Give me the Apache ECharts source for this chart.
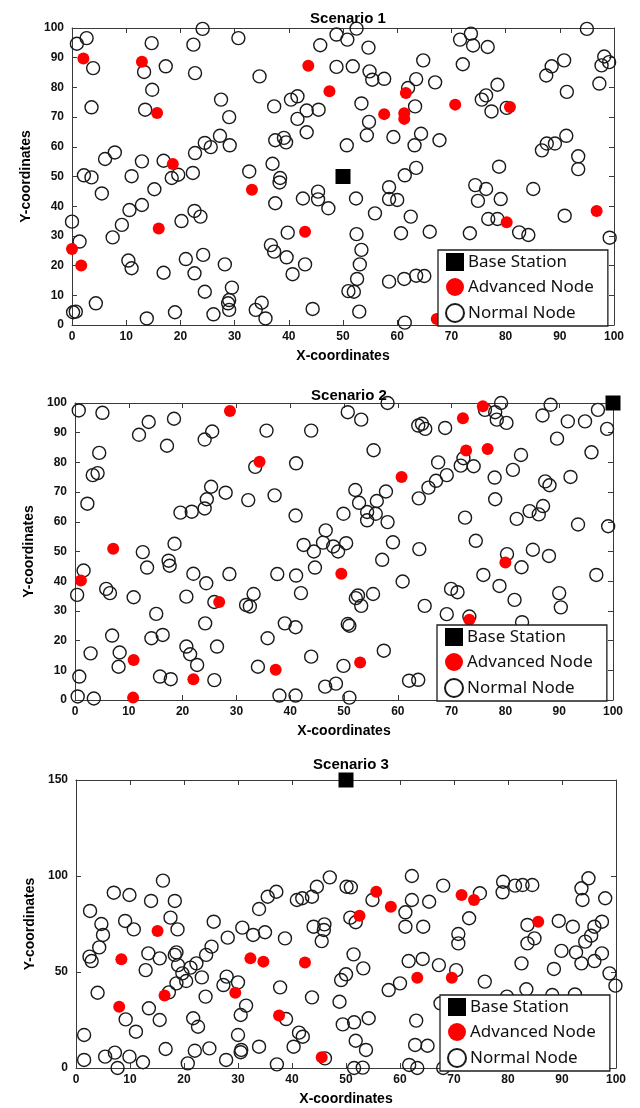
<!DOCTYPE html>
<html><head><meta charset="utf-8">
<script src="https://cdn.jsdelivr.net/npm/echarts@6/dist/echarts.min.js"></script>
<style>html,body{margin:0;padding:0;background:#fff}#c{width:640px;height:1108px}</style>
</head><body><div id="c"></div>
<script>
// ---------- DATA ----------
const titles = ['Scenario 1', 'Scenario 2', 'Scenario 3'];
const seriesNames = ['Base Station', 'Advanced Node', 'Normal Node'];
const xTicks = [0, 10, 20, 30, 40, 50, 60, 70, 80, 90, 100];
const yTicks1 = [0, 10, 20, 30, 40, 50, 60, 70, 80, 90, 100];
const yTicks2 = [0, 10, 20, 30, 40, 50, 60, 70, 80, 90, 100];
const yTicks3 = [0, 50, 100, 150];

const base1 = [[50, 50]];
const adv1 = [[2.1,89.7],[12.9,88.6],[43.6,87.3],[47.5,78.7],[15.7,71.4],[18.6,54.2],[61.6,78.1],[57.6,71.0],[61.3,71.3],[61.3,69.4],[70.7,74.2],[80.8,73.4],[33.2,45.5],[16.0,32.5],[0,25.6],[1.7,20.0],[43.0,31.4],[96.8,38.4],[80.2,34.6],[67.3,2.0]];
const norm1 = [[24.1,99.7],[2.7,96.6],[0.9,94.7],[14.7,94.9],[22.4,94.4],[30.7,96.6],[48.8,97.8],[50.8,96.1],[45.8,94.2],[3.9,86.5],[13.3,85.2],[17.3,87.1],[22.7,84.8],[34.6,83.7],[48.8,86.9],[14.8,79.2],[27.5,75.9],[3.6,73.3],[13.5,72.5],[29.0,70.0],[37.3,73.6],[40.4,75.9],[41.6,77.0],[43.3,72.2],[45.5,72.5],[41.6,69.4],[43.3,64.9],[27.3,63.7],[24.5,61.3],[25.6,59.9],[29.1,60.5],[37.5,62.2],[39.1,63.0],[39.5,61.5],[50.7,60.5],[7.9,58.1],[6.1,55.9],[12.9,55.1],[16.9,55.3],[22.7,57.9],[37.0,54.3],[32.7,51.7],[2.2,50.4],[3.6,49.7],[11.0,50.1],[19.6,50.6],[18.4,49.5],[22.3,51.2],[38.4,49.5],
[95.0,99.7],[73.6,98.1],[52.5,99.8],[71.6,96.1],[74.0,94.1],[76.7,93.6],[54.7,93.4],[64.8,89.1],[72.1,87.8],[51.8,87.1],[54.9,85.4],[55.4,82.6],[57.6,82.9],[63.5,82.8],[67.0,81.7],[78.5,80.9],[62.0,79.8],[88.5,87.1],[90.8,89.1],[87.5,84.0],[98.2,90.4],[99.1,88.5],[97.7,87.4],[97.3,81.3],[91.3,78.5],[76.4,77.3],[75.6,75.9],[77.4,71.9],[80.2,73.1],[53.4,74.6],[63.3,73.6],[54.8,68.4],[54.4,63.9],[59.3,63.3],[64.4,64.4],[67.8,62.2],[63.2,60.5],[86.7,58.8],[87.6,61.1],[89.1,61.1],[91.2,63.7],[93.4,56.8],[93.4,52.5],[78.8,53.3],[63.5,52.9],[61.4,50.4],
[5.5,44.3],[15.2,45.7],[10.6,38.7],[12.9,40.4],[9.2,33.7],[7.5,29.5],[0,34.8],[1.4,28.1],[22.6,38.4],[23.7,36.5],[20.2,35.0],[10.4,21.7],[11.0,19.1],[16.9,17.6],[21.0,22.2],[24.2,23.6],[22.6,17.4],[28.2,20.4],[24.5,11.2],[29.5,12.6],[29.0,8.4],[28.8,7.3],[29.0,5.1],[4.4,7.3],[0.2,4.3],[0.7,4.5],[13.8,2.2],[19.0,4.3],[26.1,3.6],[33.9,5.1],[35.0,7.5],[35.7,2.2],[36.7,26.9],[37.3,24.7],[39.6,22.8],[40.7,17.1],[43.0,20.4],[44.4,5.4],[39.8,31.1],[37.5,41.0],[38.3,48.0],[42.6,42.6],[45.4,44.9],[45.4,42.3],[47.3,39.3],[51.0,11.4],
[58.5,46.4],[52.4,42.6],[58.5,42.4],[60.0,42.1],[74.4,47.1],[76.4,45.8],[85.1,45.8],[74.9,41.8],[79.1,42.4],[55.9,37.6],[62.5,36.5],[76.8,35.7],[78.5,35.7],[90.9,36.8],[52.5,30.6],[60.7,30.9],[66.0,31.4],[73.4,30.9],[82.5,31.2],[84.2,30.3],[99.2,29.4],[53.4,25.3],[53.1,20.4],[52.6,15.5],[52.0,11.2],[58.5,14.6],[61.3,15.5],[63.5,16.6],[65.0,16.5],[53.0,4.5],[61.4,0.8]];

const base2 = [[100, 100]];
const adv2 = [[28.8,97.3],[34.3,80.2],[75.8,98.9],[72.1,94.9],[72.7,84.0],[76.7,84.5],[60.7,75.1],[7.1,50.9],[1.1,40.2],[26.8,33.0],[49.5,42.5],[10.9,13.5],[37.3,10.2],[22.0,7.0],[80.0,46.3],[73.3,27.0],[53.0,12.6],[10.8,0.8]];
const norm2 = [[0.7,97.5],[5.1,96.7],[13.7,93.6],[18.4,94.7],[11.9,89.3],[17.1,85.6],[25.5,90.4],[24.1,87.7],[35.6,90.7],[43.9,90.7],[50.7,96.9],[4.5,83.2],[3.3,75.7],[4.2,76.4],[33.5,78.5],[41.1,79.7],[25.3,71.8],[24.5,67.6],[24.1,64.5],[28.0,69.8],[32.2,67.3],[37.1,68.9],[2.3,66.1],[19.6,63.1],[21.7,63.4],[41.0,62.1],[49.9,62.7],
[58.1,100],[79.2,100],[53.2,94.4],[63.8,92.4],[64.5,93.0],[65.1,91.3],[68.8,91.6],[76.2,97.7],[78.1,96.9],[78.4,94.4],[80.2,93.3],[86.9,95.8],[88.4,99.4],[91.6,93.8],[94.8,93.8],[97.2,97.7],[98.9,91.3],[89.6,88.0],[55.5,84.1],[67.5,80.0],[72.2,81.4],[71.7,78.9],[74.1,78.7],[82.9,82.5],[96.0,83.4],[81.4,77.5],[78.0,74.9],[69.1,75.7],[67.1,73.8],[65.7,71.5],[63.9,67.9],[52.1,70.7],[52.8,66.4],[56.1,67.0],[57.8,70.2],[54.3,63.3],[55.9,62.7],[54.3,60.5],[58.1,59.9],[72.5,61.4],[78.1,67.6],[82.1,61.0],[84.5,63.6],[86.2,62.5],[87.0,65.3],[87.4,73.6],[88.2,72.3],[92.1,75.1],[93.5,59.1],[99.1,58.5],
[46.6,57.1],[42.5,52.2],[46.1,53.0],[48.0,51.7],[44.4,50.0],[48.9,50.0],[50.4,52.8],[18.5,52.6],[12.6,49.8],[17.4,46.9],[17.6,45.2],[13.4,44.6],[1.6,43.6],[22.0,42.5],[28.7,42.4],[37.6,42.4],[41.1,41.9],[44.6,44.6],[24.4,39.3],[5.8,37.4],[6.5,36.0],[0.4,35.4],[10.9,34.6],[20.7,34.8],[33.2,35.7],[42.0,36.0],[31.8,32.0],[32.5,31.5],[25.9,33.0],[15.1,29.0],[24.2,25.8],[39.0,25.8],[41.0,24.5],[50.7,25.6],[51.0,25.0],[6.9,21.7],[14.2,20.8],[16.3,21.9],[35.8,20.8],[20.7,18.0],[21.4,15.4],[26.4,18.0],[2.9,15.7],[8.3,16.0],[8.1,11.2],[22.7,11.8],[34.0,11.2],[43.9,14.6],[49.9,11.5],[0.8,7.9],[15.8,7.9],[17.8,7.0],[25.9,6.7],
[59.1,53.1],[64.0,50.8],[57.1,47.2],[74.5,53.6],[80.3,49.1],[85.1,50.6],[88.1,48.5],[83.0,44.7],[75.9,42.1],[78.9,38.4],[96.9,42.1],[60.9,39.9],[55.4,35.7],[52.2,34.3],[52.6,35.2],[53.2,31.7],[69.9,37.4],[71.1,36.3],[81.7,33.7],[90.0,36.0],[90.3,31.2],[65.0,31.7],[69.1,28.9],[73.3,28.1],[83.1,26.2],[57.4,16.6],[62.1,6.5],[63.8,6.8],
[0.5,1.2],[3.5,0.5],[38.0,1.5],[41.0,1.5],[46.5,4.5],[51.0,0.8],[48.5,5.5]];

const base3 = [[50, 150]];
const adv3 = [[55.6,91.8],[71.4,90.1],[73.7,87.5],[15.1,71.4],[8.4,56.6],[32.3,57.1],[34.7,55.4],[42.4,54.9],[16.4,37.7],[29.5,39.2],[8.0,31.9],[37.6,27.3],[45.5,5.6],[58.3,84.0],[52.5,79.3],[85.6,76.2],[63.2,47.0],[69.6,47.0]];
const norm3 = [[47.0,99.3],[16.1,97.6],[7.0,91.3],[9.9,90.1],[13.9,87.0],[18.3,87.0],[35.5,89.2],[37.1,91.8],[40.9,87.5],[41.9,88.4],[43.7,89.2],[44.6,94.4],[50.1,94.4],
[62.2,100],[50.9,94.1],[68.0,95.0],[79.1,97.0],[79.0,91.5],[81.3,95.0],[82.7,95.3],[84.5,95.3],[94.9,98.8],[93.6,93.6],[74.8,91.0],[93.8,87.5],[98.0,88.4],[62.2,87.5],[65.4,86.6],[54.9,87.5],
[33.9,82.8],[2.6,81.8],[4.7,75.0],[9.1,76.6],[10.7,72.2],[17.5,78.3],[18.8,72.2],[25.5,76.2],[5.0,69.3],[4.3,62.8],[2.5,58.0],[2.9,55.7],[13.4,59.7],[15.5,57.1],[18.3,58.9],[18.6,60.2],[18.9,53.6],[12.9,51.0],[19.7,49.3],[21.2,52.3],[22.3,54.5],[24.1,58.9],[25.1,63.2],[23.3,47.2],[20.4,45.3],[18.6,44.1],[17.2,39.4],[4.0,39.2],[13.5,31.1],[15.5,25.0],[9.2,25.3],[11.1,18.9],[1.5,17.2],[24.0,37.2],[27.9,47.6],[27.3,43.2],[30.0,44.6],[28.1,67.9],[30.8,73.1],[32.8,69.3],[35.0,70.7],[38.7,67.5],[37.8,42.0],[31.5,32.5],[30.5,27.6],[21.7,25.9],[22.6,21.5],[30.0,17.2],[33.9,11.1],[40.3,11.1],[41.3,18.4],[42.0,16.3],[38.9,25.5],[43.7,36.8],[44.0,73.6],[46.0,74.8],[45.9,71.9],[45.5,66.1],[48.8,34.5],[49.1,45.8],[50.0,48.8],[49.4,22.7],[50.8,78.3],[16.6,9.9],[22.0,9.0],[24.7,10.2],[30.6,9.4],[30.5,8.2],[27.8,4.2],[20.7,2.4],[12.4,3.0],[9.9,5.9],[7.2,8.0],[5.4,5.9],[1.5,4.2],[7.7,0],[37.2,1.9],[46.1,5.0],
[51.8,75.9],[61.0,81.1],[61.0,73.6],[64.3,73.6],[72.8,78.0],[70.8,69.8],[70.8,64.9],[83.6,74.5],[89.4,76.6],[92.0,73.6],[96.0,73.6],[97.4,76.2],[95.4,68.9],[94.3,65.8],[84.9,67.5],[83.6,64.9],[89.9,61.0],[92.6,60.2],[97.4,59.7],[93.6,54.5],[96.0,55.7],[98.8,49.3],[99.9,42.9],[51.4,59.2],[53.2,51.9],[61.6,55.7],[64.2,56.8],[67.2,53.6],[70.4,51.0],[82.5,54.5],[88.5,51.6],[75.7,45.0],[60.0,44.1],[57.9,40.6],[83.4,41.0],[79.8,37.2],[88.2,38.0],[92.4,38.3],[67.5,33.7],[63.0,24.7],[54.2,25.9],[51.5,23.8],[51.8,14.2],[53.7,9.4],[62.8,12.0],[65.1,11.6],[51.5,0],[53.1,0.2],[61.7,1.6],[63.2,0],[68.0,0]];

// ---------- LAYOUT ----------
const panels = [
  {base: base1, adv: adv1, norm: norm1, yTicks: yTicks1, grid: {left: 72, top: 28, width: 542, height: 297}, titleTop: 6, legendTop: 250},
  {base: base2, adv: adv2, norm: norm2, yTicks: yTicks2, grid: {left: 75, top: 403, width: 538, height: 297}, titleTop: 383, legendTop: 625},
  {base: base3, adv: adv3, norm: norm3, yTicks: yTicks3, grid: {left: 76, top: 780, width: 540, height: 288}, titleTop: 752, legendTop: 995}
];

const FONT = 'Liberation Sans';
const axisColor = '#3a3a3a';
const option = {animation: false, backgroundColor: '#fff', title: [], grid: [], xAxis: [], yAxis: [], series: [], legend: []};

function axisCommon(showLabel) {
  return {
    axisLine: {show: true, onZero: false, lineStyle: {color: axisColor, width: 1}},
    axisTick: {show: true, inside: true, length: 5, lineStyle: {color: axisColor}},
    splitLine: {show: false}
  };
}

panels.forEach((p, i) => {
  option.grid.push(p.grid);
  option.title.push({text: titles[i], left: p.grid.left + p.grid.width / 2, textAlign: 'center', top: p.titleTop,
    textStyle: {fontFamily: FONT, fontWeight: 'bold', fontSize: 15, color: '#000'}});
  const xmin = xTicks[0], xmax = xTicks[xTicks.length - 1], xint = xTicks[1] - xTicks[0];
  const ymin = p.yTicks[0], ymax = p.yTicks[p.yTicks.length - 1], yint = p.yTicks[1] - p.yTicks[0];
  const lbl = {fontFamily: FONT, fontWeight: 'bold', fontSize: 12, color: '#111'};
  option.xAxis.push(Object.assign(axisCommon(), {gridIndex: i, type: 'value', min: xmin, max: xmax, interval: xint, position: 'bottom',
    name: 'X-coordinates', nameLocation: 'middle', nameGap: 24, nameTextStyle: {fontFamily: FONT, fontWeight: 'bold', fontSize: 14, color: '#000'},
    axisLabel: Object.assign({margin: 6}, lbl)}));
  option.xAxis.push(Object.assign(axisCommon(), {gridIndex: i, type: 'value', min: xmin, max: xmax, interval: xint, position: 'top',
    axisLabel: {show: false}}));
  option.yAxis.push(Object.assign(axisCommon(), {gridIndex: i, type: 'value', min: ymin, max: ymax, interval: yint, position: 'left',
    name: 'Y-coordinates', nameLocation: 'middle', nameGap: 34, nameTextStyle: {fontFamily: FONT, fontWeight: 'bold', fontSize: 14, color: '#000'},
    axisLabel: Object.assign({margin: 8}, lbl)}));
  option.yAxis.push(Object.assign(axisCommon(), {gridIndex: i, type: 'value', min: ymin, max: ymax, interval: yint, position: 'right',
    axisLabel: {show: false}}));
  const xi = i * 2, yi = i * 2;
  option.series.push({name: seriesNames[2], type: 'scatter', xAxisIndex: xi, yAxisIndex: yi, data: p.norm, symbol: 'circle', symbolSize: 13, clip: false,
    itemStyle: {color: 'rgba(255,255,255,0)', borderColor: '#1a1a1a', borderWidth: 1.4, opacity: 1}, z: 2});
  option.series.push({name: seriesNames[1], type: 'scatter', xAxisIndex: xi, yAxisIndex: yi, data: p.adv, symbol: 'circle', symbolSize: 12, clip: false,
    itemStyle: {color: '#ff0000', opacity: 1}, z: 3});
  option.series.push({name: seriesNames[0], type: 'scatter', xAxisIndex: xi, yAxisIndex: yi, data: p.base, symbol: 'rect', symbolSize: 15, clip: false,
    itemStyle: {color: '#000', opacity: 1}, z: 4});
  option.legend.push({data: seriesNames, orient: 'vertical', left: p.grid.left + p.grid.width - 176, top: p.legendTop,
    itemWidth: 18, itemHeight: 18, itemGap: 7, padding: [3, 14, 3, 7], selectedMode: false,
    borderColor: '#1e1e1e', borderWidth: 1.3, backgroundColor: '#fff', z: 10,
    textStyle: {fontFamily: 'Noto Sans', fontSize: 17, color: '#111', padding: [0, 0, 0, -1]}});
});

const chart = echarts.init(document.getElementById('c'), null, {renderer: 'canvas'});
chart.setOption(option);
</script>
</body></html>
